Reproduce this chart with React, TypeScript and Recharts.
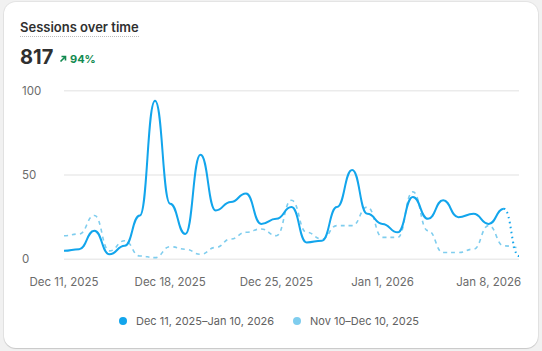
import React from "react";
import { LineChart, Line, XAxis, YAxis, CartesianGrid } from "recharts";

// Days in the current period (Dec 11, 2025 – Jan 10, 2026)
const days = [
  "Dec 11, 2025", "Dec 12, 2025", "Dec 13, 2025", "Dec 14, 2025", "Dec 15, 2025",
  "Dec 16, 2025", "Dec 17, 2025", "Dec 18, 2025", "Dec 19, 2025", "Dec 20, 2025",
  "Dec 21, 2025", "Dec 22, 2025", "Dec 23, 2025", "Dec 24, 2025", "Dec 25, 2025",
  "Dec 26, 2025", "Dec 27, 2025", "Dec 28, 2025", "Dec 29, 2025", "Dec 30, 2025",
  "Dec 31, 2025", "Jan 1, 2026", "Jan 2, 2026", "Jan 3, 2026", "Jan 4, 2026",
  "Jan 5, 2026", "Jan 6, 2026", "Jan 7, 2026", "Jan 8, 2026", "Jan 9, 2026",
  "Jan 10, 2026",
];

const currentSessions = [
  5, 6, 17, 3, 8, 26, 94, 33, 15, 62, 29, 34, 39, 21, 24, 31, 10, 11, 31, 53,
  27, 21, 16, 37, 24, 35, 25, 27, 21, 30, 2,
];

const previousSessions = [
  14, 15, 26, 5, 11, 2, 1, 7.5, 6, 3, 7, 12, 16, 18, 14, 35, 16, 12, 20, 20,
  31, 13, 13, 40, 17, 4, 4, 6, 20, 8, 7,
];

const xTicks = ["Dec 11, 2025", "Dec 18, 2025", "Dec 25, 2025", "Jan 1, 2026", "Jan 8, 2026"];
const yTicks = [0, 50, 100];

const currentLabel = "Dec 11, 2025–Jan 10, 2026";
const previousLabel = "Nov 10–Dec 10, 2025";

const CURRENT = "#12a5ec";
const PREVIOUS = "#7fcdee";

// last day is still in progress -> dotted tail
const lastIdx = days.length - 1;
const data = days.map((d, i) => ({
  date: d,
  current: i < lastIdx ? currentSessions[i] : null,
  tail: i >= lastIdx - 1 ? currentSessions[i] : null,
  previous: previousSessions[i],
}));

const YTick = ({ y, payload }: any) => (
  <text x={22} y={y} dy={4} fontSize={11.5} fill="#6b6b6b" textAnchor="start" fontFamily="Inter">
    {payload.value}
  </text>
);

const XTick = ({ x, y, payload }: any) => (
  <text x={x} y={y} dy={27} fontSize={11.5} fill="#6b6b6b" textAnchor="middle" fontFamily="Inter">
    {payload.value}
  </text>
);

const LegendItem = ({ color, label, left }: { color: string; label: string; left: number }) => (
  <div style={{ position: "absolute", left, top: 313, display: "flex", alignItems: "center", height: 16 }}>
    <span style={{ width: 8, height: 8, borderRadius: 4, background: color, display: "inline-block", marginRight: 9 }} />
    <span style={{ fontSize: 11, color: "#616161" }}>{label}</span>
  </div>
);

export default function App() {
  return (
    <div style={{ position: "fixed", left: 0, top: 0, width: 542, height: 351, background: "#f1f1f1", fontFamily: "Inter, sans-serif", overflow: "hidden" }}>
      <div
        style={{
          position: "absolute",
          left: 4,
          top: 2,
          width: 534,
          height: 346,
          background: "#fff",
          borderRadius: 12,
          boxShadow: "0 1px 1px rgba(0,0,0,0.12), 0 0 0 1px rgba(0,0,0,0.05)",
        }}
      />
      <div
        style={{
          position: "absolute",
          left: 20,
          top: 19,
          fontSize: 13,
          fontWeight: 600,
          color: "#303030",
          lineHeight: "16px",
          paddingBottom: 1,
          borderBottom: "1.5px dotted #bdbdbd",
        }}
      >
        Sessions over time
      </div>
      <div style={{ position: "absolute", left: 20, top: 45, fontSize: 20, fontWeight: 700, color: "#303030", lineHeight: "24px" }}>
        817
      </div>
      <div style={{ position: "absolute", left: 59, top: 52, display: "flex", alignItems: "center", color: "#128a50", fontSize: 11, fontWeight: 700, lineHeight: "14px" }}>
        <svg width={8} height={8} viewBox="0 0 8 8" style={{ marginRight: 3 }}>
          <path d="M1.5 6.5 L6 2 M2.5 1.5 H6.5 V5.5" stroke="#128a50" strokeWidth={1.6} fill="none" />
        </svg>
        94%
      </div>

      <div style={{ position: "absolute", left: 0, top: 0 }}>
        <LineChart width={542} height={351} data={data} margin={{ top: 90.7, right: 23, bottom: 61.7, left: 22 }}>
          <CartesianGrid vertical={false} stroke="#ebebeb" strokeWidth={1.5} />
          <XAxis
            dataKey="date"
            ticks={xTicks}
            interval={0}
            tick={<XTick />}
            tickLine={false}
            axisLine={false}
            tickSize={0}
            tickMargin={0}
            height={30}
          />
          <YAxis
            domain={[0, 100]}
            ticks={yTicks}
            tick={<YTick />}
            tickLine={false}
            axisLine={false}
            width={42}
          />
          <Line
            type="bumpX"
            dataKey="previous"
            stroke={PREVIOUS}
            strokeWidth={1.6}
            strokeDasharray="4 4"
            dot={false}
            activeDot={false}
            isAnimationActive={false}
          />
          <Line
            type="bumpX"
            dataKey="current"
            stroke={CURRENT}
            strokeWidth={2}
            dot={false}
            activeDot={false}
            connectNulls={false}
            isAnimationActive={false}
          />
          <Line
            type="bumpX"
            dataKey="tail"
            stroke={CURRENT}
            strokeWidth={2}
            strokeDasharray="1.5 3.5"
            dot={false}
            activeDot={false}
            isAnimationActive={false}
          />
        </LineChart>
      </div>

      <LegendItem color={CURRENT} label={currentLabel} left={119} />
      <LegendItem color={PREVIOUS} label={previousLabel} left={293} />
    </div>
  );
}
